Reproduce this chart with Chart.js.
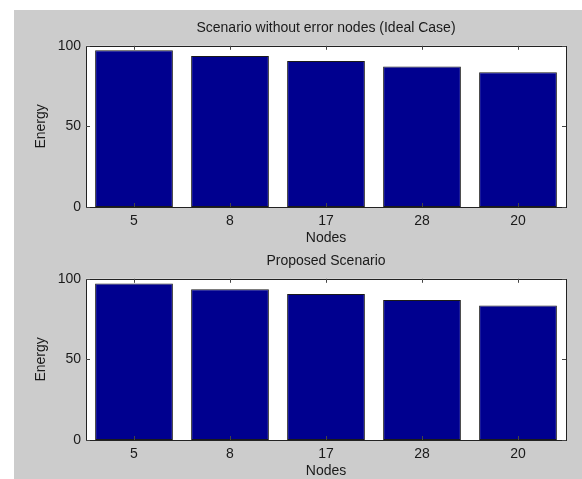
<!DOCTYPE html>
<html lang="en">
<head>
  <meta charset="UTF-8">
  <title>Energy per Node</title>
  <script src="https://cdn.jsdelivr.net/npm/chart.js"></script>
  <style>
    body { margin: 0; background: #fff; width: 582px; height: 479px; overflow: hidden; }
    .figure { position: absolute; left: 14px; top: 10px; width: 568px; height: 469px; background: #cccccc; overflow: hidden; }
    .panel { position: absolute; left: 0; width: 568px; height: 240px; }
    #topPanel { top: 0; }
    #bottomPanel { top: 233px; }
  </style>
</head>
<body>
  <div class="figure">
    <div class="panel" id="topPanel"><canvas id="idealChart" width="568" height="240"></canvas></div>
    <div class="panel" id="bottomPanel"><canvas id="proposedChart" width="568" height="240"></canvas></div>
  </div>
  <script>
    const nodeLabels = ['5', '8', '17', '28', '20'];
    const idealEnergy = [97.2, 93.7, 90.6, 87.2, 83.6];
    const proposedEnergy = [97.1, 93.5, 90.5, 86.9, 83.5];
    const energyTicks = [0, 50, 100];

    const FONT = "'Liberation Sans', Arial, sans-serif";
    const TEXT = '#1a1a1a';

    // white axes box, outline and MATLAB-style inward ticks
    const axesBox = {
      id: 'axesBox',
      beforeDatasetsDraw(chart) {
        const { ctx, chartArea: a } = chart;
        ctx.save();
        ctx.fillStyle = '#fff';
        ctx.fillRect(a.left, a.top, a.right - a.left, a.bottom - a.top);
        ctx.restore();
      },
      afterDraw(chart) {
        const { ctx, chartArea: a, scales } = chart;
        ctx.save();
        ctx.strokeStyle = '#222';
        ctx.lineWidth = 1;
        ctx.strokeRect(Math.round(a.left) + 0.5, Math.round(a.top) + 0.5,
          Math.round(a.right - a.left), Math.round(a.bottom - a.top));
        ctx.strokeStyle = '#444';
        ctx.beginPath();
        scales.x.ticks.forEach((t, i) => {
          const x = Math.round(scales.x.getPixelForTick(i)) + 0.5;
          ctx.moveTo(x, a.top); ctx.lineTo(x, a.top + 4);
          ctx.moveTo(x, a.bottom); ctx.lineTo(x, a.bottom - 4);
        });
        scales.y.ticks.forEach((t, i) => {
          const y = Math.round(scales.y.getPixelForTick(i)) + 0.5;
          ctx.moveTo(a.left, y); ctx.lineTo(a.left + 4, y);
          ctx.moveTo(a.right, y); ctx.lineTo(a.right - 4, y);
        });
        ctx.stroke();
        ctx.restore();
      }
    };

    function makeChart(id, title, values) {
      return new Chart(document.getElementById(id), {
        type: 'bar',
        data: {
          labels: nodeLabels,
          datasets: [{
            data: values,
            backgroundColor: '#00008f',
            borderColor: '#1a1a1a',
            borderWidth: 1,
            borderSkipped: false,
            categoryPercentage: 1,
            barPercentage: 0.81
          }]
        },
        options: {
          responsive: false,
          animation: false,
          layout: { padding: { right: 16 } },
          plugins: {
            legend: { display: false },
            tooltip: { enabled: false },
            title: {
              display: true,
              fullSize: false,
              text: title,
              color: TEXT,
              font: { family: FONT, size: 14, weight: 'normal' },
              padding: { top: 10, bottom: 9 }
            }
          },
          scales: {
            x: {
              grid: { display: false, drawTicks: false },
              border: { display: false },
              ticks: { color: TEXT, font: { family: FONT, size: 14 }, padding: 6 },
              title: { display: true, text: 'Nodes', color: TEXT, font: { family: FONT, size: 14 }, padding: { top: 0, bottom: 3 } },
              afterFit(s) { s.height = 43; }
            },
            y: {
              min: 0,
              max: 100,
              grid: { display: false, drawTicks: false },
              border: { display: false },
              afterBuildTicks(s) { s.ticks = energyTicks.map(v => ({ value: v })); },
              ticks: { color: TEXT, font: { family: FONT, size: 14 }, padding: 5 },
              title: { display: true, text: 'Energy', color: TEXT, font: { family: FONT, size: 14 }, padding: { top: 19, bottom: 0 } },
              afterFit(s) { s.width = 72; }
            }
          }
        },
        plugins: [axesBox]
      });
    }

    makeChart('idealChart', 'Scenario without error nodes (Ideal Case)', idealEnergy);
    makeChart('proposedChart', 'Proposed Scenario', proposedEnergy);
  </script>
</body>
</html>
